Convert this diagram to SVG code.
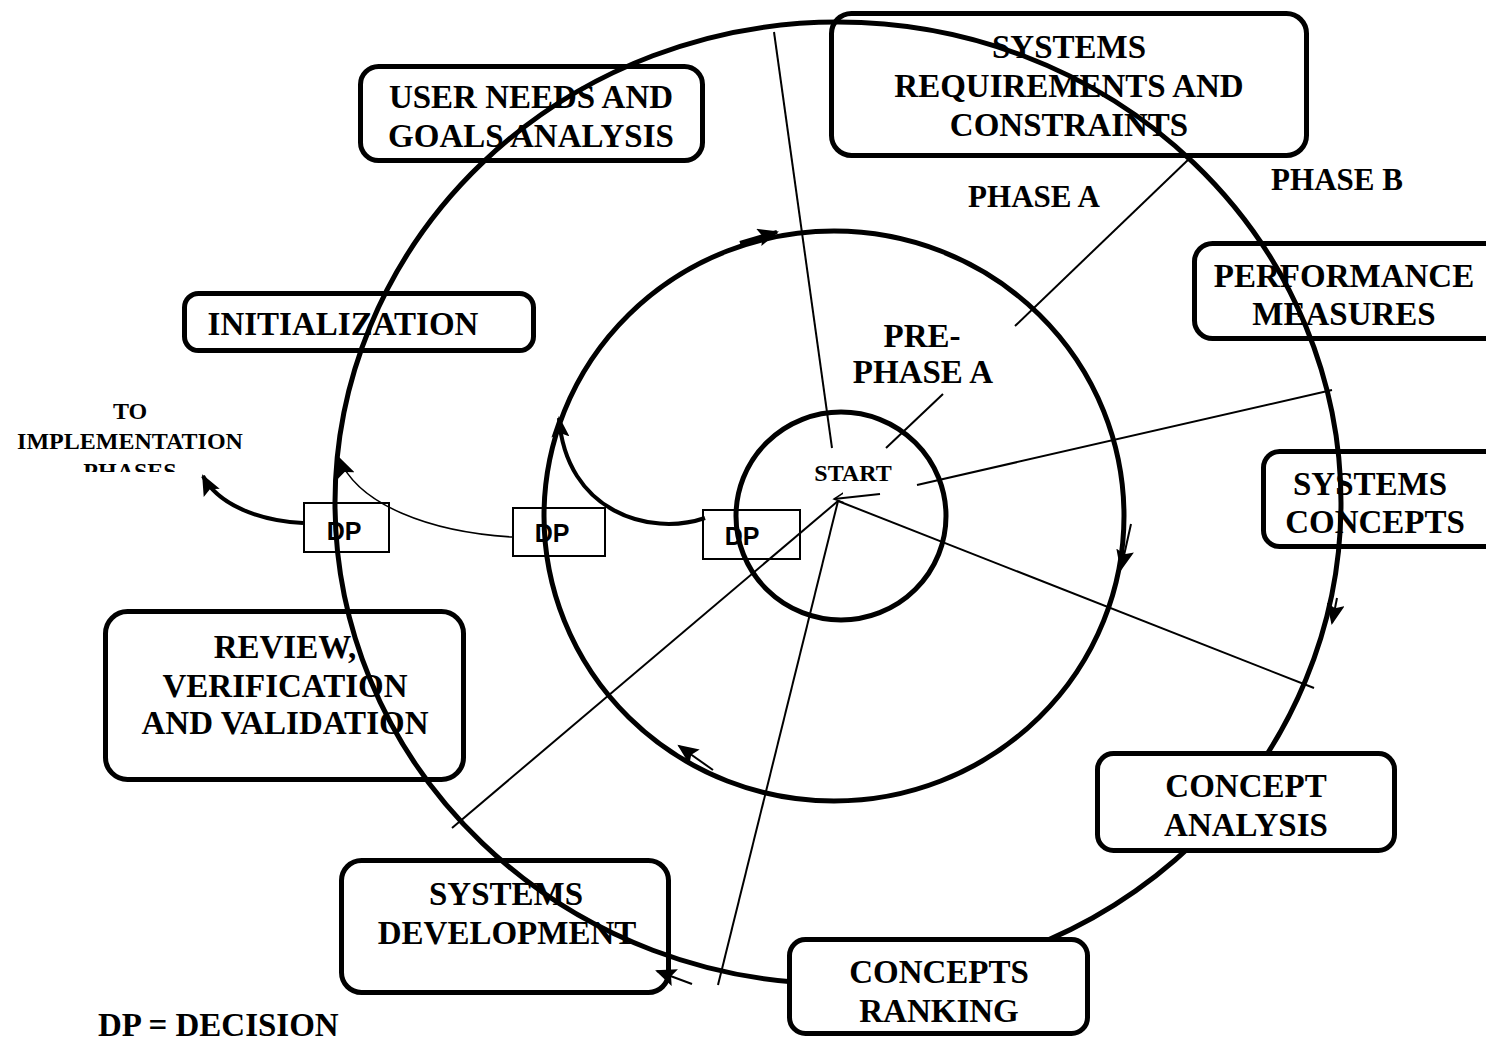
<svg xmlns="http://www.w3.org/2000/svg" width="1486" height="1044" viewBox="0 0 1486 1044">
<style>
.box{fill:none;stroke:#000;stroke-width:5}
.boxw{fill:#fff;stroke:#000;stroke-width:5}
.dp{fill:none;stroke:#000;stroke-width:2}
.t{font-family:"Liberation Serif","Times New Roman",serif;font-weight:bold;font-size:33px;fill:#000;text-anchor:middle}
.ts{font-family:"Liberation Serif","Times New Roman",serif;font-weight:bold;font-size:24px;fill:#000;text-anchor:middle}
.td{font-family:"Liberation Sans",Arial,sans-serif;font-weight:bold;font-size:25px;fill:#000;text-anchor:middle}
.ring{fill:none;stroke:#000;stroke-width:5}
.ray{fill:none;stroke:#000;stroke-width:2}
.thick{fill:none;stroke:#000;stroke-width:4}
</style>
<defs>
<marker id="ah" markerUnits="userSpaceOnUse" markerWidth="22" markerHeight="18" refX="19" refY="9" orient="auto">
<path d="M0,0 L21,9 L0,18 L4,9 Z" fill="#000"/>
</marker>
<marker id="ao" markerUnits="userSpaceOnUse" markerWidth="12" markerHeight="12" refX="10" refY="6" orient="auto">
<path d="M0,1 L10,6 L0,11" fill="none" stroke="#000" stroke-width="1.5"/>
</marker>
<clipPath id="clipTo"><rect x="0" y="390" width="300" height="82"/></clipPath>
</defs>
<rect width="1486" height="1044" fill="#fff"/>

<g id="user-needs"><rect class="box" x="360.5" y="66.5" width="342" height="94" rx="18"/>
<text class="t" x="531" y="108">USER NEEDS AND</text><text class="t" x="531" y="147">GOALS ANALYSIS</text></g>
<g id="sys-req"><rect class="box" x="831.5" y="13.5" width="475" height="142" rx="20"/>
<text class="t" x="1069" y="58">SYSTEMS</text><text class="t" x="1069" y="97">REQUIREMENTS AND</text><text class="t" x="1069" y="136">CONSTRAINTS</text></g>
<g id="phase-a"><text class="t" x="1034" y="207" style="font-size:31px">PHASE A</text></g>
<g id="phase-b"><text class="t" x="1337" y="190" style="font-size:31px">PHASE B</text></g>
<g id="perf"><rect class="box" x="1194.5" y="243.5" width="310" height="95" rx="18"/>
<text class="t" x="1344" y="287">PERFORMANCE</text><text class="t" x="1344" y="325">MEASURES</text></g>
<g id="init"><rect class="box" x="184.5" y="293.5" width="349" height="57" rx="14"/>
<text class="t" x="343" y="335">INITIALIZATION</text></g>
<g id="pre-phase-a"><text class="t" x="922" y="347">PRE-</text><text class="t" x="923" y="383">PHASE A</text></g>
<g id="start"><text class="ts" x="853" y="481">START</text></g>
<g id="to-impl" clip-path="url(#clipTo)"><text class="ts" x="130" y="419">TO</text><text class="ts" x="130" y="449">IMPLEMENTATION</text><text class="ts" x="130" y="479">PHASES</text></g>
<g id="sys-concepts"><rect class="box" x="1263.5" y="451.5" width="240" height="95" rx="16"/>
<text class="t" x="1370" y="495">SYSTEMS</text><text class="t" x="1375" y="533">CONCEPTS</text></g>
<g id="review"><rect class="box" x="105.5" y="611.5" width="358" height="168" rx="22"/>
<text class="t" x="285" y="658">REVIEW,</text><text class="t" x="285" y="697">VERIFICATION</text><text class="t" x="285" y="734">AND VALIDATION</text></g>
<g id="sys-dev"><rect class="box" x="341.5" y="860.5" width="327" height="132" rx="20"/>
<text class="t" x="506" y="905">SYSTEMS</text><text class="t" x="507" y="944">DEVELOPMENT</text></g>
<g id="dp1"><rect class="dp" x="304" y="503" width="85" height="49"/><text class="td" x="344" y="540">DP</text></g>
<g id="dp2"><rect class="dp" x="513" y="508" width="92" height="48"/><text class="td" x="552" y="542">DP</text></g>
<g id="dp3"><rect class="dp" x="703" y="510" width="97" height="49"/><text class="td" x="742" y="545">DP</text></g>
<g id="legend"><text class="t" x="98" y="1036" style="text-anchor:start">DP = DECISION</text></g>

<g id="connectors">
<ellipse class="ring" cx="838" cy="503" rx="503" ry="481"/>
<ellipse class="ring" cx="834" cy="516" rx="290" ry="285"/>
<ellipse class="ring" cx="841" cy="516" rx="105" ry="104"/>
<line class="ray" x1="774" y1="32" x2="832" y2="448"/>
<line class="ray" x1="886" y1="448" x2="943" y2="394"/>
<line class="ray" x1="1015" y1="326" x2="1190" y2="158"/>
<line class="ray" x1="917" y1="485" x2="1332" y2="390"/>
<line class="ray" x1="838" y1="501" x2="1314" y2="688"/>
<line class="ray" x1="838" y1="501" x2="452" y2="828"/>
<line class="ray" x1="838" y1="501" x2="718" y2="985"/>
<line class="ray" x1="880" y1="494" x2="834" y2="499" marker-end="url(#ao)"/>
<path class="thick" d="M303,523 C260,521 218,505 203,476" marker-end="url(#ah)"/>
<path class="thick" d="M705,518 C650,537 566,512 559,418" marker-end="url(#ah)"/>
<path fill="none" stroke="#000" stroke-width="1.5" d="M512,537 C430,532 358,505 339,458" marker-end="url(#ah)"/>
<line class="thick" x1="740" y1="243" x2="777" y2="232" marker-end="url(#ah)"/>
<line class="ray" x1="1131" y1="524" x2="1121" y2="569" marker-end="url(#ah)"/>
<line class="ray" x1="713" y1="770" x2="679" y2="746" marker-end="url(#ah)"/>
<line class="ray" x1="1337" y1="598" x2="1332" y2="623" marker-end="url(#ah)"/>
<line class="ray" x1="692" y1="984" x2="657" y2="971" marker-end="url(#ah)"/>
</g>

<g id="concept-analysis"><rect class="boxw" x="1097.5" y="753.5" width="297" height="97" rx="16"/>
<text class="t" x="1246" y="797">CONCEPT</text><text class="t" x="1246" y="836">ANALYSIS</text></g>
<g id="concepts-ranking"><rect class="boxw" x="789.5" y="939.5" width="298" height="94" rx="16"/>
<text class="t" x="939" y="983">CONCEPTS</text><text class="t" x="939" y="1022">RANKING</text></g>
</svg>
